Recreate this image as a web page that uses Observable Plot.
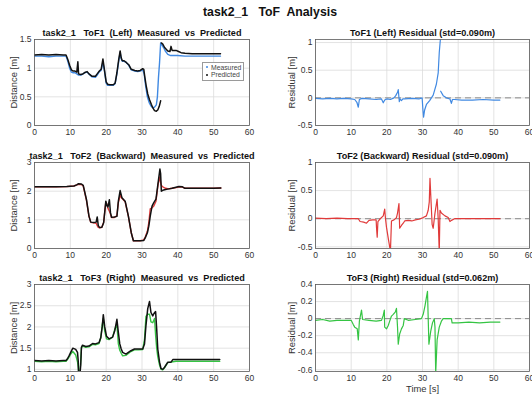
<!DOCTYPE html>
<html>
<head>
<meta charset="utf-8">
<script src="https://cdn.jsdelivr.net/npm/d3@7"></script>
<script src="https://cdn.jsdelivr.net/npm/@observablehq/plot@0.6"></script>
<style>
  html, body { margin: 0; padding: 0; background: #fff; }
  #fig { position: relative; width: 532px; height: 394px; overflow: hidden; background: #fff; font-family: "Liberation Sans", Arial, sans-serif; }
  #fig svg { position: absolute; }
  #main-title { position: absolute; top: 5px; left: 4px; width: 532px; text-align: center; font-weight: bold; font-size: 12.3px; color: #111; white-space: pre; }
  .legend { position: absolute; left: 202px; top: 62px; width: 40px; height: 16px; border: 1px solid #9a9a9a; background: #fff; font-size: 6.8px; color: #444; line-height: 7.5px; padding-top: 0.5px; }
  .legend div { white-space: nowrap; padding-left: 2px; }
  .legend span.dot { display: inline-block; width: 2px; height: 2px; border-radius: 1px; margin: 0 3px 1px 1px; vertical-align: middle; }
</style>
</head>
<body>
<div id="fig">
  <div id="main-title">task2_1   ToF  Analysis</div>
</div>
<script>
// ---------- shared axis data ----------
const xTicks = [0, 10, 20, 30, 40, 50, 60];
const xDomain = [0, 60];

// ---------- ToF1 (Left) ----------
const tof1PredTime = [0,2,4,6,8,8.8,9.3,9.8,10.3,10.8,11.3,11.8,12.1,12.3,12.8,13.5,14.2,14.7,15.2,16,17,17.5,18.1,18.6,19.1,19.5,20,20.4,21,22,22.5,23,23.5,23.9,24.2,24.5,25,25.6,26.3,27,28,28.8,29.5,30.2,30.5,30.8,31.2,31.6,32.1,32.6,33,33.5,34,34.4,34.8,35.2,35.3,35.4,35.8,36.3,37.2,37.8,38.1,38.4,39,39.5,40.2,40.9,42,44,46,48,50,51.9];
const tof1Predicted = [1.23,1.24,1.23,1.24,1.23,1.23,1.15,1.05,0.97,0.95,0.95,0.93,1.11,0.90,0.89,0.90,0.93,0.94,0.90,0.86,0.86,0.90,0.95,0.98,1.16,0.98,0.76,0.72,0.71,0.71,0.74,0.92,1.15,1.30,1.18,1.13,1.13,1.10,1.06,0.98,0.96,0.95,0.96,0.99,0.98,0.84,0.68,0.55,0.45,0.37,0.31,0.26,0.25,0.27,0.33,0.43,null,1.44,1.42,1.36,1.30,1.29,1.38,1.31,1.31,1.31,1.29,1.27,1.26,1.25,1.25,1.25,1.25,1.25];
const tof1MeasTime = [0,2,4,6,8,8.8,9.3,9.8,10.3,10.8,11.3,11.8,12.3,13,14,14.7,15.2,16,17,17.5,18.1,18.6,19.1,19.5,20,20.4,21,22,22.5,23,23.5,23.9,24.2,24.5,25,25.6,26.3,27,28,28.8,29.5,30.2,30.6,31,31.5,32,32.5,33,33.5,34,34.3,34.6,34.9,35.2,35.5,36,36.5,37.2,38,40,42,44,46,48,50,51.9];
const tof1Measured = [1.21,1.21,1.20,1.21,1.21,1.21,1.12,1.00,0.93,0.92,0.92,0.90,0.88,0.88,0.92,0.93,0.90,0.85,0.84,0.88,0.94,0.96,1.10,0.96,0.74,0.70,0.70,0.70,0.73,0.90,1.12,1.28,1.16,1.12,1.12,1.10,1.05,0.97,0.95,0.94,0.95,0.97,0.90,0.70,0.50,0.40,0.34,0.31,0.32,0.36,0.50,0.84,1.10,1.44,1.41,1.36,1.30,1.24,1.22,1.22,1.21,1.21,1.21,1.21,1.21,1.21];
const tof1ResTime = [0,2,4,6,8,10,11,11.6,12,12.3,13,15,17,18.5,19,19.4,20,21,22,22.5,23,23.2,23.5,23.7,24.1,24.5,25,27,29,29.9,30.1,30.3,30.6,31.1,32,33,33.9,34.4,34.7,35,35.05,35.1,35.8,36.7,37.7,38.1,38.4,39,41,44,47,50,51.7];
const tof1Residual = [-0.01,-0.02,-0.01,-0.02,-0.01,-0.02,-0.03,-0.08,-0.17,-0.03,-0.01,-0.02,-0.03,-0.02,-0.09,-0.04,-0.02,-0.03,0.0,0.04,0.10,0.15,-0.07,-0.02,-0.05,-0.02,-0.02,-0.01,-0.02,0.0,-0.20,-0.35,-0.22,-0.12,-0.05,0.05,0.25,0.45,0.82,1.05,null,0.12,0.04,0.0,-0.02,-0.10,-0.03,-0.03,-0.04,-0.04,-0.03,-0.04,-0.04];

// ---------- ToF2 (Backward) ----------
const tof2Time = [0,3,6,9,11,11.8,12.2,13.1,13.6,14.5,15.2,15.7,16.5,17.2,17.5,17.8,18.2,18.8,19.3,19.9,20.2,20.5,20.9,21.2,21.5,22.3,23,23.4,23.9,24.4,25.3,26.2,27,27.6,28.5,29.5,30.5,30.9,31.5,31.9,32.3,32.8,33.3,33.9,34.5,35,35.2,35.4,35.8,36.6,37.5,38.4,40.3,41.3,42,44,46,48,50,52];
const tof2Predicted = [2.15,2.15,2.15,2.16,2.18,2.22,2.26,2.25,2.20,1.71,1.13,0.92,0.91,0.92,1.10,0.80,0.73,0.74,0.90,1.65,1.50,1.45,1.70,1.25,1.09,1.10,1.12,1.65,2.02,1.77,1.65,1.13,0.55,0.27,0.27,0.27,0.28,0.37,0.55,0.78,1.13,1.48,1.60,1.72,2.30,2.77,2.60,2.00,2.03,2.06,2.08,2.10,2.16,2.15,2.10,2.10,2.10,2.10,2.10,2.11];
const tof2Measured = [2.15,2.15,2.15,2.16,2.18,2.22,2.24,2.23,2.18,1.68,1.12,0.91,0.90,0.88,0.80,0.74,0.72,0.74,0.92,1.62,1.55,1.40,1.30,1.20,1.08,1.08,1.15,1.60,1.85,1.75,1.63,1.12,0.55,0.27,0.27,0.27,0.30,0.40,0.60,0.90,1.38,1.42,1.48,1.65,2.25,2.50,2.30,2.20,2.15,2.10,2.08,2.10,2.14,2.14,2.10,2.10,2.10,2.10,2.10,2.11];
const tof2ResTime = [0,3,6,9,12,12.5,13.5,14.3,15,16,17,17.1,17.3,17.5,18,19,19.4,19.6,19.9,20.4,20.8,21,21.3,22,22.7,23,23.4,23.6,24.1,24.6,25,26,27,28,29,30.2,31.1,31.6,31.9,32.1,32.4,32.7,33,33.5,34.1,34.4,34.7,34.9,35.3,36.3,37.2,37.7,38.1,39,42,45,48,51.7];
const tof2Residual = [0.01,0.0,0.01,0.0,0.0,-0.05,-0.06,-0.08,-0.03,-0.02,-0.02,-0.15,-0.33,-0.05,-0.01,0.05,0.17,0.02,-0.15,-0.35,-0.50,-0.60,-0.04,-0.02,0.02,0.10,0.27,-0.17,-0.12,-0.08,-0.04,-0.03,-0.04,-0.02,-0.01,0.02,0.05,0.15,0.30,0.72,0.30,-0.10,-0.17,0.10,0.35,0.0,-0.60,0.15,0.10,0.05,0.02,-0.05,-0.03,0.0,0.0,0.0,0.0,0.0];

// ---------- ToF3 (Right) ----------
const tof3Time = [0,2,4,6,8,8.8,9.2,9.7,10.1,10.7,11.5,12,12.2,12.3,12.7,12.9,13.1,13.4,14.3,15.2,16.2,17,18,18.5,18.9,19.2,19.6,20.1,20.8,21.8,22.4,23,23.4,23.8,24.2,24.6,25.5,26.9,27.9,29,30.2,30.7,31.1,31.6,32.1,32.5,33,33.5,33.8,34.1,34.4,34.9,35.3,35.8,36.3,37.2,38.1,38.6,39.5,42,45,48,51.7];
const tof3Predicted = [1.21,1.20,1.21,1.20,1.21,1.21,1.25,1.33,1.40,1.50,1.47,1.40,1.20,0.90,0.90,1.10,1.52,1.57,1.54,1.55,1.61,1.60,1.63,1.75,2.00,2.29,2.00,1.78,1.72,1.76,1.91,2.18,1.87,1.60,1.48,1.40,1.36,1.44,1.48,1.48,1.48,1.60,2.03,2.43,2.60,2.34,2.26,2.34,2.36,1.95,1.48,1.17,1.02,1.00,1.05,1.17,1.17,1.23,1.23,1.23,1.23,1.23,1.23];
const tof3Measured = [1.19,1.18,1.19,1.18,1.19,1.19,1.23,1.30,1.36,1.42,1.34,1.18,1.05,0.96,0.96,1.20,1.50,1.55,1.52,1.53,1.59,1.58,1.61,1.74,2.05,2.20,1.90,1.72,1.70,1.76,1.95,2.05,1.60,1.45,1.38,1.32,1.33,1.42,1.46,1.46,1.47,1.70,2.25,2.30,2.30,2.12,2.10,2.20,1.80,1.50,1.30,1.10,1.00,0.99,1.04,1.16,1.17,1.18,1.19,1.19,1.19,1.19,1.19];
const tof3ResTime = [0,2,4,6,8,10,10.6,11,11.7,12,12.3,12.9,13.2,15,17,18.5,19,19.3,19.4,19.9,20.4,20.8,21.3,21.8,22.4,22.7,23,23.2,23.6,24.1,24.6,24.9,26,28,29.7,30.2,30.7,31.1,31.4,31.6,31.8,32.3,32.8,33.3,33.5,33.7,34.1,34.7,35.3,35.8,37.2,38.1,38.3,40,43,46,49,51.7];
const tof3Residual = [-0.02,-0.01,-0.03,-0.02,-0.02,-0.02,-0.07,-0.10,-0.12,-0.25,-0.03,0.10,-0.01,-0.02,-0.03,-0.02,0.04,0.10,-0.10,-0.12,-0.08,-0.03,0.03,0.05,0.08,0.12,-0.10,-0.30,-0.18,-0.12,-0.08,0.0,-0.02,-0.01,0.0,0.05,0.15,0.25,0.32,0.0,-0.30,-0.15,-0.05,0.0,-0.10,-0.64,-0.25,-0.10,-0.03,0.0,0.0,0.0,-0.05,-0.05,-0.04,-0.05,-0.04,-0.04];

// ---------- colours / text ----------
const blue = "#4089e2", red = "#e03a3a", green = "#35c443", black = "#111111";
const FONT = "'Liberation Sans', Arial, sans-serif";

const rows = (t, v) => t.map((x, i) => ({t: x, v: v[i]}));

function subplot(cfg) {
  const marginTop = 26;
  const height = marginTop + cfg.axisH + cfg.marginBottom;
  const marks = [
    Plot.gridX(xTicks, {stroke: "#dcdcdc", strokeOpacity: 1, strokeWidth: 0.8}),
    Plot.gridY(cfg.yTicks, {stroke: "#dcdcdc", strokeOpacity: 1, strokeWidth: 0.8})
  ];
  if (cfg.zero) marks.push(Plot.ruleY([0], {stroke: "#8a8a8a", strokeWidth: 1, strokeDasharray: "6,4"}));
  for (const s of cfg.series) {
    marks.push(Plot.line(rows(s.t, s.v), {x: "t", y: "v", stroke: s.color, strokeWidth: s.w, clip: true, curve: "linear"}));
  }
  marks.push(Plot.frame({stroke: "#5a5a5a", strokeWidth: 0.8}));
  marks.push(Plot.axisX(xTicks, {tickSize: 0, tickPadding: 3, tickFormat: d => String(d), label: null, fill: "#333"}));
  marks.push(Plot.axisY(cfg.yTicks, {tickSize: 0, tickPadding: 3, tickFormat: d => String(d), label: null, fill: "#333"}));
  marks.push(Plot.text([cfg.title], {text: d => d, frameAnchor: "top", dy: -4, lineAnchor: "bottom", fontWeight: "bold", fontSize: 9.1, fill: "#111"}));
  marks.push(Plot.text([cfg.ylabel], {text: d => d, frameAnchor: "left", rotate: -90, dx: -cfg.ylabelOffset, textAnchor: "middle", lineAnchor: "middle", fontSize: 9.4, fill: "#333"}));
  if (cfg.xlabel) marks.push(Plot.text([cfg.xlabel], {text: d => d, frameAnchor: "bottom", dy: 17, textAnchor: "middle", lineAnchor: "middle", fontSize: 9.4, fill: "#333"}));
  const svg = Plot.plot({
    width: 266, height,
    marginLeft: cfg.marginLeft, marginRight: cfg.marginRight, marginTop, marginBottom: cfg.marginBottom,
    style: {fontFamily: FONT, fontSize: "8.5px", color: "#333", background: "transparent", overflow: "visible"},
    x: {domain: xDomain},
    y: {domain: cfg.yDomain},
    marks
  });
  svg.style.left = cfg.left + "px";
  svg.style.top = (cfg.axisTop - marginTop) + "px";
  document.getElementById("fig").appendChild(svg);
}

const L = {left: 0, marginLeft: 34, marginRight: 17, ylabel: "Distance [m]", ylabelOffset: 21};
const R = {left: 266, marginLeft: 49, marginRight: 3, ylabel: "Residual [m]", ylabelOffset: 24, zero: true};

subplot({...L, axisTop: 39, axisH: 86, marginBottom: 16, yDomain: [0, 1.5], yTicks: [0, 0.5, 1, 1.5],
  title: "task2_1   ToF1  (Left)  Measured  vs  Predicted",
  series: [{t: tof1MeasTime, v: tof1Measured, color: blue, w: 1.4}, {t: tof1PredTime, v: tof1Predicted, color: black, w: 1.5}]});
subplot({...R, axisTop: 39, axisH: 86, marginBottom: 16, yDomain: [-0.5, 1.055], yTicks: [-0.5, 0, 0.5, 1],
  title: "ToF1 (Left) Residual (std=0.090m)",
  series: [{t: tof1ResTime, v: tof1Residual, color: blue, w: 1.2}]});

subplot({...L, axisTop: 162, axisH: 86, marginBottom: 16, yDomain: [0, 3], yTicks: [0, 1, 2, 3],
  title: "task2_1   ToF2  (Backward)  Measured  vs  Predicted",
  series: [{t: tof2Time, v: tof2Measured, color: red, w: 1.4}, {t: tof2Time, v: tof2Predicted, color: black, w: 1.5}]});
subplot({...R, axisTop: 162, axisH: 86, marginBottom: 16, yDomain: [-0.53, 1], yTicks: [-0.5, 0, 0.5, 1],
  title: "ToF2 (Backward) Residual (std=0.090m)",
  series: [{t: tof2ResTime, v: tof2Residual, color: red, w: 1.2}]});

subplot({...L, axisTop: 284, axisH: 87, marginBottom: 24, yDomain: [0.95, 3], yTicks: [1, 1.5, 2, 2.5, 3],
  title: "task2_1   ToF3  (Right)  Measured  vs  Predicted",
  series: [{t: tof3Time, v: tof3Measured, color: green, w: 1.4}, {t: tof3Time, v: tof3Predicted, color: black, w: 1.5}]});
subplot({...R, axisTop: 284, axisH: 87, marginBottom: 24, yDomain: [-0.62, 0.4], yTicks: [-0.6, -0.4, -0.2, 0, 0.2, 0.4],
  title: "ToF3 (Right) Residual (std=0.062m)", xlabel: "Time [s]",
  series: [{t: tof3ResTime, v: tof3Residual, color: green, w: 1.2}]});

// legend for the first subplot
const legendEntries = [{label: "Measured", color: blue}, {label: "Predicted", color: black}];
const lg = document.createElement("div");
lg.className = "legend";
for (const e of legendEntries) {
  const row = document.createElement("div");
  const dot = document.createElement("span");
  dot.className = "dot";
  dot.style.background = e.color;
  row.appendChild(dot);
  row.appendChild(document.createTextNode(e.label));
  lg.appendChild(row);
}
document.getElementById("fig").appendChild(lg);
</script>
</body>
</html>
